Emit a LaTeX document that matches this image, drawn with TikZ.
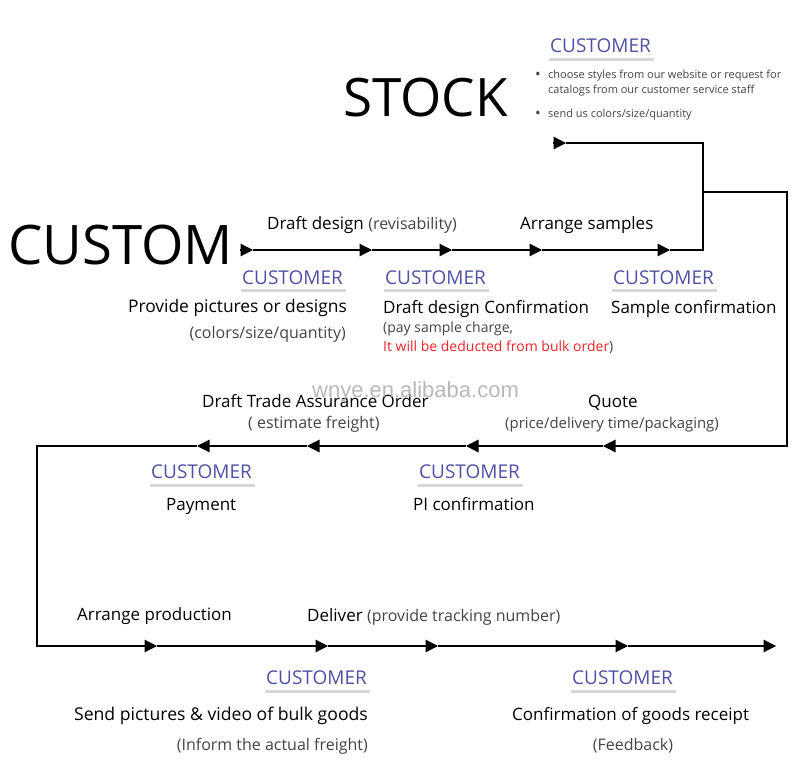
\documentclass[tikz,border=0pt]{standalone}
\usepackage{fontspec}
\setmainfont{Open Sans}
\newfontfamily\wmfont{Liberation Sans}
\usetikzlibrary{arrows.meta}

\definecolor{custblue}{RGB}{80,80,168}
\definecolor{notegray}{RGB}{68,68,68}
\definecolor{notered}{RGB}{232,38,42}
\definecolor{ulgray}{RGB}{214,214,214}

\begin{document}
\begin{tikzpicture}[x=1pt, y=-1pt,
    flow/.style={-{Triangle[length=12.5pt,width=12.5pt]}, line width=1.2pt},
    line/.style={line width=1.2pt},
    big/.style={anchor=base west, inner sep=0pt, font=\fontsize{53}{60}\selectfont},
    cust/.style={anchor=base west, inner sep=0pt, text=custblue, font=\fontsize{19}{21}\selectfont},
    uline/.style={draw=ulgray, line width=3pt},
    txt/.style={inner sep=0pt, font=\fontsize{17}{20}\selectfont},
    note/.style={inner sep=0pt, text=notegray, font=\fontsize{16}{19}\selectfont},
    small/.style={anchor=base west, inner sep=0pt, text=notegray, font=\fontsize{14}{16}\selectfont},
    bul/.style={anchor=base west, inner sep=0pt, text=notegray, font=\fontsize{11}{13}\selectfont}
]
    \useasboundingbox (0,0) rectangle (800,783);

    % Titles
    \node[big, font=\fontsize{54.5}{60}\selectfont] (custom) at (8,265) {CUSTOM};
    \node[big] (stock) at (343,117) {STOCK};

    % Stock customer
    \node[cust] (cs) at (550,53) {CUSTOMER};
    \draw[uline] ([xshift=-1pt,yshift=-7pt]cs.base west) -- ([xshift=3pt,yshift=-7pt]cs.base east);
    \node[bul, font=\fontsize{15}{13}\selectfont] (b1) at (535,80) {•};
    \node[bul] (b1t) at (548,79) {choose styles from our website or request for};
    \node[bul] (b1u) at (548,94) {catalogs from our customer service staff};
    \node[bul, font=\fontsize{15}{13}\selectfont] (b2) at (535,119) {•};
    \node[bul] (b2t) at (548,118) {send us colors/size/quantity};

    % Row 1 points
    \coordinate (r1s) at (240,250);
    \coordinate (r1a) at (253,250);
    \coordinate (r1b) at (372,250);
    \coordinate (r1c) at (452,250);
    \coordinate (r1d) at (542,250);
    \coordinate (r1e) at (670,250);
    \coordinate (r1k) at (703,250);
    \coordinate (tk) at (703,143);
    \coordinate (ta) at (566,143);
    \coordinate (ts) at (553,143);

    % Row 2 points
    \coordinate (lj) at (703,192);
    \coordinate (lk1) at (787,192);
    \coordinate (lk2) at (787,446);
    \coordinate (r2a) at (603,446);
    \coordinate (r2b) at (466,446);
    \coordinate (r2c) at (307,446);
    \coordinate (r2d) at (197,446);
    \coordinate (rk1) at (37,446);
    \coordinate (rk2) at (37,646);

    % Row 3 points
    \coordinate (r3a) at (157,646);
    \coordinate (r3b) at (328,646);
    \coordinate (r3c) at (438,646);
    \coordinate (r3d) at (628,646);
    \coordinate (r3e) at (776,646);

    % Flow lines
    \draw[flow] (r1s) -- (r1a);
    \draw[flow] (r1a) -- (r1b);
    \draw[flow] (r1b) -- (r1c);
    \draw[flow] (r1c) -- (r1d);
    \draw[flow] (r1d) -- (r1e);
    \draw[line] (r1e) -- (r1k) -- (tk) -- (ta);
    \draw[flow] (ts) -- (ta);
    \draw[flow] (lj) -- (lk1) -- (lk2) -- (r2a);
    \draw[flow] (r2a) -- (r2b);
    \draw[flow] (r2b) -- (r2c);
    \draw[flow] (r2c) -- (r2d);
    \draw[flow] (r2d) -- (rk1) -- (rk2) -- (r3a);
    \draw[flow] (r3a) -- (r3b);
    \draw[flow] (r3b) -- (r3c);
    \draw[flow] (r3c) -- (r3d);
    \draw[flow] (r3d) -- (r3e);

    % Row 1 labels
    \node[txt, anchor=base west] (dd) at (267,230) {Draft design {\color{notegray}\fontsize{16}{19}\selectfont(revisability)}};
    \node[txt, anchor=base west] (as) at (520,230) {Arrange samples};
    \node[cust] (c1) at (242,285) {CUSTOMER};
    \node[cust] (c2) at (385,285) {CUSTOMER};
    \node[cust] (c3) at (613,285) {CUSTOMER};
    \foreach \c in {c1,c2,c3}
        \draw[uline] ([xshift=-1pt,yshift=-6pt]\c.base west) -- ([xshift=3pt,yshift=-6pt]\c.base east);
    \node[txt, anchor=base east, font=\fontsize{17.4}{20}\selectfont] (pp) at (347,313) {Provide pictures or designs};
    \node[note, anchor=base east] (pq) at (346,338) {(colors/size/quantity)};
    \node[txt, anchor=base west] (dc) at (383,314) {Draft design Confirmation};
    \node[small] (ps) at (383,333) {(pay sample charge,};
    \node[small] (pd) at (383,352) {{\color{notered}It will be deducted from bulk order})};
    \node[txt, anchor=base west] (sc) at (611,314) {Sample confirmation};

    % Row 2 labels
    \node[txt, anchor=base west] (qt) at (588,407) {Quote};
    \node[note, anchor=base west, font=\fontsize{14.9}{18}\selectfont] (qd) at (505,428) {(price/delivery time/packaging)};
    \node[txt, anchor=base west] (dt) at (202,407) {Draft Trade Assurance Order};
    \node[note, anchor=base west] (ef) at (248,428) {( estimate freight)};
    \node[cust] (c4) at (151,478) {CUSTOMER};
    \node[cust] (c5) at (419,478) {CUSTOMER};
    \foreach \c in {c4,c5}
        \draw[uline] ([xshift=-1pt,yshift=-7pt]\c.base west) -- ([xshift=3pt,yshift=-7pt]\c.base east);
    \node[txt, anchor=base west] (pay) at (166,510) {Payment};
    \node[txt, anchor=base west] (pic) at (413,510) {PI confirmation};

    % Row 3 labels
    \node[txt, anchor=base west] (ap) at (77,620) {Arrange production};
    \node[txt, anchor=base west] (dl) at (307,621) {Deliver {\color{notegray}\fontsize{16}{19}\selectfont(provide tracking number)}};
    \node[cust] (c6) at (266,684) {CUSTOMER};
    \node[cust] (c7) at (572,684) {CUSTOMER};
    \foreach \c in {c6,c7}
        \draw[uline] ([xshift=-1pt,yshift=-7pt]\c.base west) -- ([xshift=3pt,yshift=-7pt]\c.base east);
    \node[txt, anchor=base east, font=\fontsize{17.6}{20}\selectfont] (sp) at (368,720) {Send pictures \& video of bulk goods};
    \node[note, anchor=base east] (fr) at (368,750) {(Inform the actual freight)};
    \node[txt, anchor=base west] (cg) at (512,720) {Confirmation of goods receipt};
    \node[note, anchor=base] (fb) at (633,750) {(Feedback)};

    % Watermark
    \node[anchor=base west, inner sep=0pt, text=gray!70, opacity=0.8, font=\wmfont\fontsize{22}{24}\selectfont] (wm) at (312,397) {wnye.en.alibaba.com};
\end{tikzpicture}
\end{document}
